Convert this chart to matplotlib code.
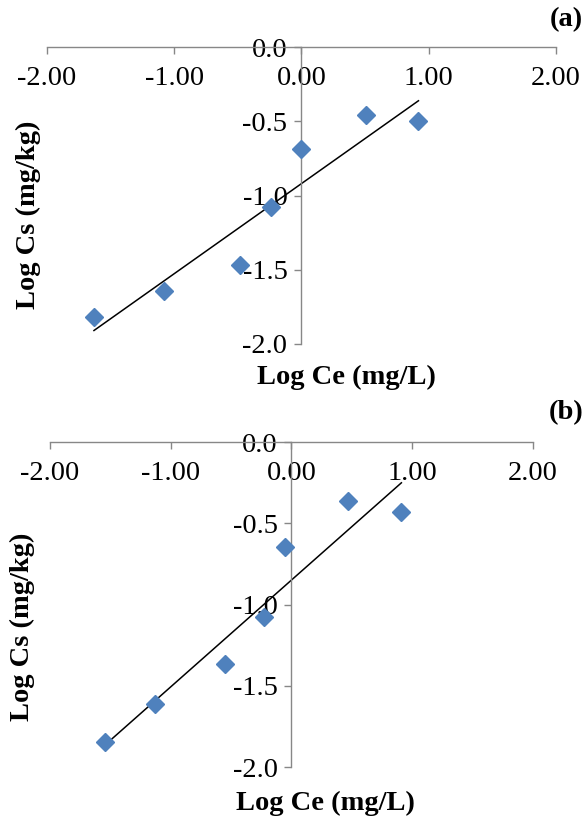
import numpy as np
import matplotlib
matplotlib.use('Agg')
import matplotlib.pyplot as plt
from matplotlib.ticker import FormatStrFormatter

plt.rcParams['font.family'] = ['Liberation Serif', 'DejaVu Serif']
plt.rcParams['axes.unicode_minus'] = False

# panel (a) data
xa = [-1.63, -1.08, -0.48, -0.24, 0.00, 0.51, 0.92]
ya = [-1.82, -1.64, -1.47, -1.075, -0.69, -0.46, -0.50]
# panel (b) data
xb = [-1.546, -1.126, -0.551, -0.230, -0.053, 0.467, 0.911]
yb = [-1.846, -1.61, -1.366, -1.077, -0.648, -0.365, -0.433]

xticks = [-2, -1, 0, 1, 2]
yticks = [0.0, -0.5, -1.0, -1.5, -2.0]

blue = '#4F81BD'
grey = '#878787'
fs = 20.5

fig = plt.figure(figsize=(5.86, 8.18), dpi=100)


def panel(rect, x, y):
    ax = fig.add_axes(rect)
    ax.set_xlim(-2, 2)
    ax.set_ylim(-2, 0)
    ax.patch.set_alpha(0)
    for s in ['top', 'right']:
        ax.spines[s].set_visible(False)
    ax.spines['bottom'].set_position(('data', 0))
    ax.spines['left'].set_position(('data', 0))
    ax.spines['bottom'].set_color(grey)
    ax.spines['left'].set_color(grey)
    ax.spines['bottom'].set_linewidth(1.0)
    ax.spines['left'].set_linewidth(1.0)
    ax.set_xticks(xticks)
    ax.set_yticks(yticks)
    ax.xaxis.set_major_formatter(FormatStrFormatter('%.2f'))
    ax.yaxis.set_major_formatter(FormatStrFormatter('%.1f'))
    ax.tick_params(axis='x', direction='out', length=5, width=1.0, color=grey,
                   pad=9, labelsize=fs)
    ax.tick_params(axis='y', direction='out', length=5, width=1.0, color=grey,
                   pad=5, labelsize=fs)
    # trendline from linear fit
    k, b = np.polyfit(x, y, 1)
    xs = np.array([min(x), max(x)])
    ax.plot(xs, k * xs + b, color='black', lw=1.1, zorder=2)
    ax.plot(x, y, linestyle='none', marker='D', markersize=9.5, color=blue,
            markeredgecolor=blue, zorder=3, clip_on=False)
    return ax


axa = panel([0.080, 0.5795, 0.8686, 0.363], xa, ya)
axb = panel([0.0853, 0.0623, 0.824, 0.3973], xb, yb)

fig.text(0.995, 1 - 20 / 818, '(a)', ha='right', va='center', fontsize=fs, fontweight='bold')
fig.text(0.995, 1 - 413 / 818, '(b)', ha='right', va='center', fontsize=fs, fontweight='bold')

fig.text(346 / 586, 1 - 377 / 818, 'Log Ce (mg/L)', ha='center', va='center',
         fontsize=fs, fontweight='bold')
fig.text(325 / 586, 1 - 803 / 818, 'Log Ce (mg/L)', ha='center', va='center',
         fontsize=fs, fontweight='bold')
fig.text(28 / 586, 1 - 215 / 818, 'Log Cs (mg/kg)', ha='center', va='center',
         rotation=90, fontsize=fs, fontweight='bold')
fig.text(22 / 586, 1 - 627 / 818, 'Log Cs (mg/kg)', ha='center', va='center',
         rotation=90, fontsize=fs, fontweight='bold')

fig.savefig('out.png', dpi=100)
